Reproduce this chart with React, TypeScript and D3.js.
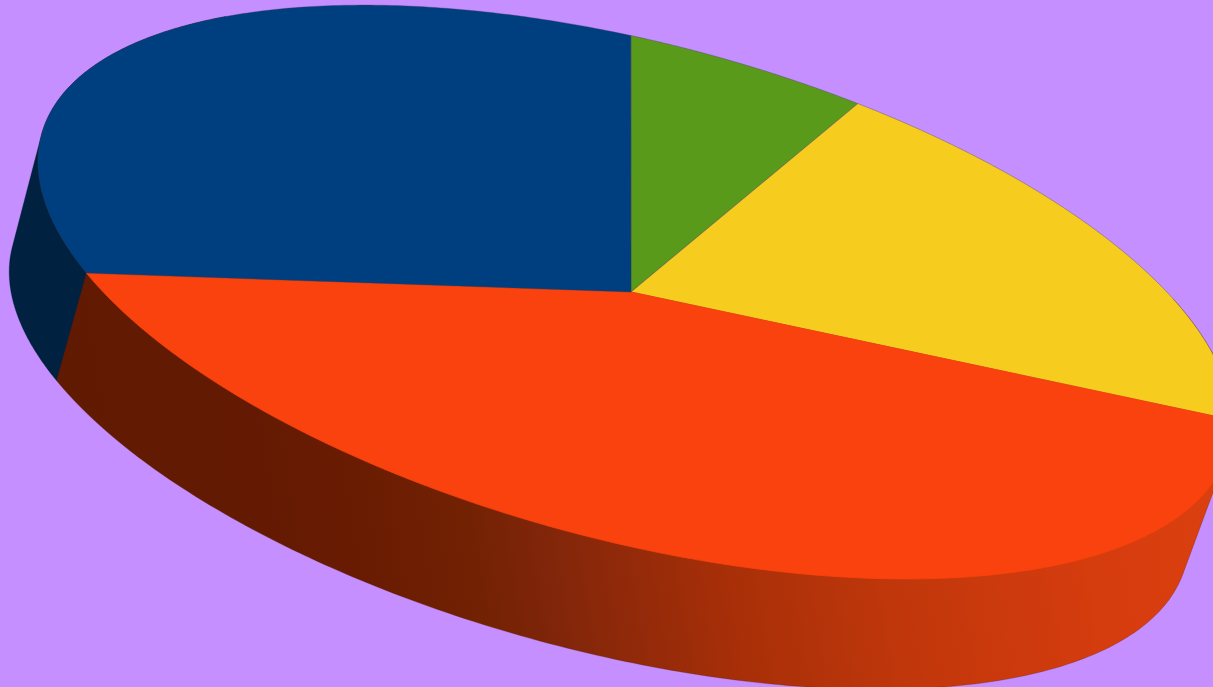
import React from "react";
import * as d3 from "d3";

const sliceNames = ["Green", "Yellow", "Orange", "Blue"];
const sliceValues = [6.2, 18.75, 43.7, 31.35];
const topColors = ["#5a9a1b", "#f6cd1e", "#f9420d", "#003f7f"];
const sideColors = ["#2d4d0d", "#7b660f", "url(#orangeSide)", "#00213f"];
const gradientStops: [number, string][] = [
  [0, "#611a02"],
  [0.15, "#641a02"],
  [0.226, "#6a1c02"],
  [0.303, "#722103"],
  [0.37, "#82260a"],
  [0.509, "#a82f08"],
  [0.638, "#c0370b"],
  [0.8, "#d53c0e"],
  [1, "#e0420f"],
];

const W = 1213;
const H = 687;
const cx = 635;
const cy = 292;
const apexX = 631;
const apexY = 292;
const rx = 614;
const ry = 248.5;
const tilt = 14.8;
const lowerTilt = 15.3;
const depthX = -36;
const depthY = 114;
const lowerScaleX = 0.99;
const lowerScaleY = 0.975;
const startDeg = -6.5;

const toRad = (d: number) => (d * Math.PI) / 180;

function project(angle: number, lower: boolean): [number, number] {
  const t = toRad(lower ? lowerTilt : tilt);
  const u = (lower ? lowerScaleX : 1) * rx * Math.sin(angle);
  const v = -(lower ? lowerScaleY : 1) * ry * Math.cos(angle);
  return [
    cx + (lower ? depthX : 0) + u * Math.cos(t) - v * Math.sin(t),
    cy + (lower ? depthY : 0) + u * Math.sin(t) + v * Math.cos(t),
  ];
}

const pieLayout = d3
  .pie<number>()
  .sort(null)
  .startAngle(toRad(startDeg))
  .endAngle(toRad(startDeg + 360));
const arcs = pieLayout(sliceValues);
const lineGen = d3.line<[number, number]>();

function samples(a0: number, a1: number, lower: boolean): [number, number][] {
  const n = 200;
  const angle = d3.scaleLinear().domain([0, n]).range([a0, a1]);
  return d3.range(n + 1).map((i) => project(angle(i), lower));
}

function sector(a0: number, a1: number): string {
  return (lineGen([[apexX, apexY], ...samples(a0, a1, false)]) as string) + "Z";
}

function wall(a0: number, a1: number): string {
  const hull = d3.polygonHull([...samples(a0, a1, false), ...samples(a0, a1, true)]) as [number, number][];
  return (lineGen(hull) as string) + "Z";
}

export default function App() {
  const orange = arcs[2];
  const blue = arcs[3];
  return (
    <svg
      width={W}
      height={H}
      viewBox={`0 0 ${W} ${H}`}
      style={{ position: "absolute", left: 0, top: 0, display: "block" }}
    >
      <defs>
        <linearGradient id="orangeSide" gradientUnits="userSpaceOnUse" x1={0} y1={0} x2={W} y2={-200}>
          {gradientStops.map(([o, c]) => (
            <stop key={o} offset={o} stopColor={c} />
          ))}
        </linearGradient>
      </defs>
      <rect width={W} height={H} fill="#c58fff" />
      <path d={wall(blue.startAngle, blue.startAngle + toRad(70))} fill={sideColors[3]} stroke="#001a33" strokeOpacity={0.4} strokeWidth={0.8} />
      <path d={wall(orange.startAngle - toRad(25), orange.endAngle)} fill={sideColors[2]} stroke="#5a1a08" strokeOpacity={0.35} strokeWidth={0.8} />
      {arcs.map((a, i) => (
        <path
          key={sliceNames[i]}
          d={sector(a.startAngle, a.endAngle)}
          fill={topColors[i]}
          stroke={i === 2 ? topColors[i] : "#3a3a5a"}
          strokeOpacity={i === 2 ? 1 : 0.45}
          strokeWidth={0.8}
        />
      ))}
    </svg>
  );
}
